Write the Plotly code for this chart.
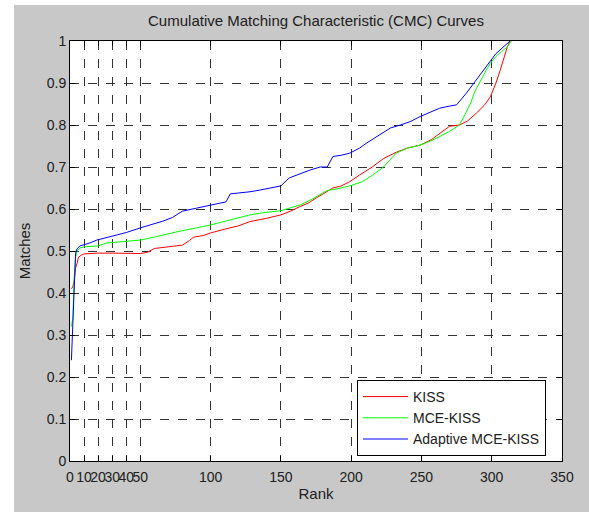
import plotly.graph_objects as go

kiss_rank = [1,2,3,4,5,6,8,10,15,20,30,40,50,55,60,70,80,85,88,95,100,110,120,128,135,140,150,157,163,170,175,181,187,193,199,206,215,223,232,240,249,257,265,270,277,283,289,295,299,303,306,309,311,313]
kiss_val = [0.41,0.415,0.43,0.46,0.47,0.485,0.49,0.493,0.494,0.495,0.495,0.494,0.494,0.497,0.506,0.51,0.514,0.525,0.533,0.537,0.543,0.552,0.56,0.57,0.574,0.578,0.586,0.595,0.605,0.615,0.626,0.638,0.65,0.655,0.665,0.681,0.70,0.72,0.735,0.745,0.752,0.765,0.785,0.797,0.80,0.81,0.828,0.848,0.867,0.9,0.93,0.965,0.985,1.0]

mce_rank = [1,2,3,4,5,7,10,15,20,26,30,40,50,60,66,75,90,100,114,128,135,150,157,164,171,178,183,190,199,208,215,223,232,240,249,255,261,270,277,281,285,288,292,296,299,303,307,311,314]
mce_val = [0.32,0.34,0.44,0.486,0.50,0.507,0.51,0.511,0.512,0.519,0.52,0.522,0.526,0.533,0.538,0.545,0.555,0.562,0.574,0.586,0.59,0.596,0.603,0.61,0.621,0.635,0.644,0.648,0.655,0.665,0.68,0.70,0.733,0.745,0.752,0.76,0.769,0.785,0.80,0.825,0.852,0.88,0.907,0.93,0.947,0.963,0.975,0.986,1.0]

ada_rank = [1,2,3,4,5,7,10,14,19,24,28,35,40,50,58,66,73,80,90,100,111,114,121,128,135,150,156,163,171,178,183,187,193,199,206,211,220,228,235,242,249,256,263,270,275,282,289,296,303,308,313]
ada_val = [0.24,0.33,0.45,0.495,0.505,0.512,0.515,0.519,0.526,0.53,0.534,0.54,0.544,0.555,0.563,0.571,0.58,0.595,0.602,0.61,0.617,0.636,0.638,0.641,0.645,0.655,0.674,0.683,0.693,0.70,0.70,0.725,0.728,0.733,0.745,0.757,0.775,0.793,0.80,0.808,0.82,0.83,0.84,0.845,0.848,0.876,0.907,0.939,0.97,0.985,1.0]

x_ticks = [0,10,20,30,40,50,100,150,200,250,300,350]
y_ticks = [0,0.1,0.2,0.3,0.4,0.5,0.6,0.7,0.8,0.9,1]
y_labels = ["0","0.1","0.2","0.3","0.4","0.5","0.6","0.7","0.8","0.9","1"]

series = [
    ("KISS", kiss_rank, kiss_val, "#ff0000"),
    ("MCE-KISS", mce_rank, mce_val, "#00ff00"),
    ("Adaptive MCE-KISS", ada_rank, ada_val, "#0000ff"),
]

fig = go.Figure()
for name, xs, ys, col in series:
    fig.add_trace(go.Scatter(x=xs, y=ys, mode="lines", name=name,
                             line=dict(color=col, width=1)))

FONT = "Liberation Sans, Arial, sans-serif"
FS = 14
W, H = 589, 512
ml, mr, mt, mb = 70, 27, 41, 51
pw, ph = W - ml - mr, H - mt - mb

axis_common = dict(
    showline=True, linecolor="black", linewidth=1, mirror="ticks",
    ticks="inside", ticklen=5, tickcolor="black",
    showgrid=True, gridcolor="#333333", griddash="dash", gridwidth=1,
    zeroline=False, tickfont=dict(family=FONT, size=FS, color="#202020"),
    automargin=False,
)

fig.update_layout(
    width=W, height=H,
    margin=dict(l=ml, r=mr, t=mt, b=mb, pad=0),
    paper_bgcolor="#c8c8c8", plot_bgcolor="white",
    font=dict(family=FONT, size=FS, color="#202020"),
    title=dict(text="Cumulative Matching Characteristic (CMC) Curves",
               x=(ml + pw / 2) / W, xanchor="center", y=1 - 21 / H, yanchor="middle",
               font=dict(family=FONT, size=15, color="#202020")),
    xaxis=dict(range=[0, 350], tickvals=x_ticks, ticktext=[str(t) for t in x_ticks],
               tickangle=0, ticklabelstandoff=3,
               title=dict(text="Rank", standoff=4, font=dict(family=FONT, size=15)),
               **axis_common),
    yaxis=dict(range=[0, 1], tickvals=y_ticks, ticktext=y_labels,
               title=dict(text="Matches", standoff=12, font=dict(family=FONT, size=15)),
               **axis_common),
    legend=dict(x=(357 - ml) / pw, y=(H - mb - 380) / ph, xanchor="left", yanchor="top",
                bgcolor="white", bordercolor="black", borderwidth=1,
                font=dict(family=FONT, size=FS, color="#202020"),
                tracegroupgap=0, itemwidth=45),
    showlegend=True,
)

# white strips at left and top edges of the figure
fig.add_shape(type="rect", xref="paper", yref="paper",
              x0=-ml / pw - 0.01, x1=(14 - ml) / pw, y0=-mb / ph - 0.01, y1=(H - mb) / ph + 0.05,
              fillcolor="white", line=dict(width=0), layer="below")
fig.add_shape(type="rect", xref="paper", yref="paper",
              x0=-ml / pw - 0.01, x1=1 + mr / pw + 0.01, y0=(H - mb - 5) / ph, y1=(H - mb) / ph + 0.05,
              fillcolor="white", line=dict(width=0), layer="below")

fig.write_html("out.html", config={"displayModeBar": False},
               post_script="document.body.style.margin='0';")
